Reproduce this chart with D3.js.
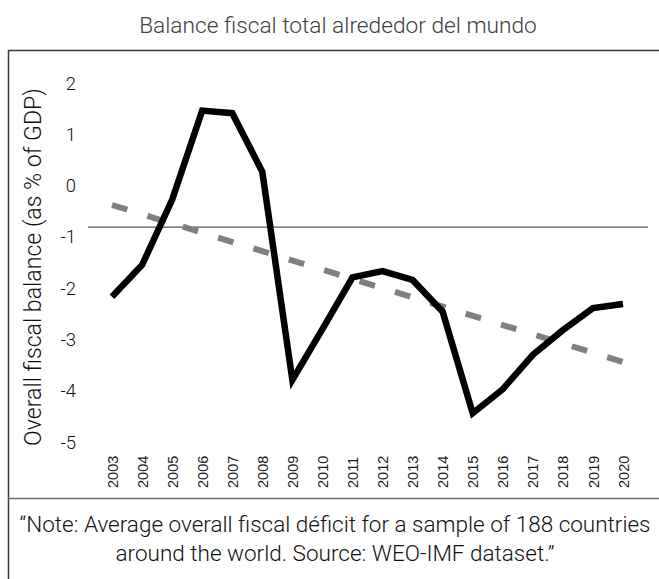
<!DOCTYPE html>
<html>
<head>
<meta charset="utf-8">
<script src="https://cdn.jsdelivr.net/npm/d3@7"></script>
<style>
  html, body { margin: 0; padding: 0; background: #fff; }
  svg { display: block; }
  .lt { font-family: Roboto, "Open Sans", "Liberation Sans", sans-serif; font-weight: 300; }
</style>
</head>
<body>
<svg id="chart" width="659" height="579"></svg>
<script>
const years = [2003, 2004, 2005, 2006, 2007, 2008, 2009, 2010, 2011, 2012, 2013, 2014, 2015, 2016, 2017, 2018, 2019, 2020];
const balance = [-2.18, -1.56, -0.29, 1.45, 1.40, 0.26, -3.80, -2.81, -1.80, -1.68, -1.85, -2.47, -4.45, -3.98, -3.31, -2.83, -2.40, -2.32];
const trendYears = [2003, 2020];
const trendValues = [-0.39, -3.45];
const yTicks = [2, 1, 0, -1, -2, -3, -4, -5];
const axisCross = -0.82;
const title = "Balance fiscal total alrededor del mundo";
const yTitle = "Overall fiscal balance (as % of GDP)";
const noteLines = ["\u201CNote: Average overall fiscal déficit for a sample of 188 countries", "around the world. Source: WEO-IMF dataset.\u201D"];

const svg = d3.select("#chart");
const x = d3.scaleLinear().domain([2003, 2020]).range([112, 623]);
const y = d3.scaleLinear().domain([-5, 2]).range([441.5, 82.4]);

function fit(sel, target) {
  const w = sel.node().getComputedTextLength();
  const fs = parseFloat(sel.attr("font-size"));
  if (w > 0) sel.attr("font-size", fs * target / w);
  return parseFloat(sel.attr("font-size"));
}

// frame
svg.append("line").attr("x1", 8.5).attr("x2", 8.5).attr("y1", 50).attr("y2", 579).attr("stroke", "#3a3a3a").attr("stroke-width", 1.5);
svg.append("line").attr("x1", 8).attr("x2", 659).attr("y1", 50.5).attr("y2", 50.5).attr("stroke", "#3a3a3a").attr("stroke-width", 1.5);
svg.append("line").attr("x1", 8).attr("x2", 659).attr("y1", 498.5).attr("y2", 498.5).attr("stroke", "#6a6a6a").attr("stroke-width", 1.5);

// title
fit(svg.append("text").attr("class", "lt").attr("x", 338).attr("y", 33)
  .attr("text-anchor", "middle").attr("font-size", 18).attr("fill", "#404040").text(title), 398);

// y-axis (labels only)
const yAxis = d3.axisLeft(y).tickValues(yTicks).tickSize(0).tickPadding(0).tickFormat(d3.format("d"));
const yg = svg.append("g").attr("transform", "translate(76,0)").call(yAxis);
yg.select(".domain").remove();
yg.attr("font-family", null).attr("font-size", null);
yg.selectAll("text").attr("class", "lt").attr("font-size", 18.5).attr("fill", "#111")
  .attr("dy", "0.36em").text(d => d < 0 ? "-" + Math.abs(d) : d);

// y title
fit(svg.append("text").attr("class", "lt")
  .attr("transform", "translate(41,267) rotate(-90)")
  .attr("text-anchor", "middle").attr("font-size", 19).attr("fill", "#111").text(yTitle), 358);

// horizontal axis line
svg.append("line").attr("x1", 88).attr("x2", 648).attr("y1", y(axisCross)).attr("y2", y(axisCross))
  .attr("stroke", "#595959").attr("stroke-width", 1.3);

// x labels
const xAxis = d3.axisBottom(x).tickValues(years).tickSize(0).tickFormat(d3.format("d"));
const xg = svg.append("g").attr("transform", "translate(0,450)").call(xAxis);
xg.select(".domain").remove();
xg.attr("font-family", null).attr("font-size", null);
xg.selectAll(".tick text").attr("font-family", "Liberation Sans, Arial, sans-serif").attr("font-size", 14.5).attr("fill", "#1a1a1a")
  .attr("transform", "rotate(-90)").attr("x", -38).attr("y", 0).attr("dy", "0.35em").attr("text-anchor", "start");

// trend
const line = d3.line().x(d => x(d[0])).y(d => y(d[1]));
svg.append("path").datum(d3.zip(trendYears, trendValues)).attr("d", line)
  .attr("fill", "none").attr("stroke", "#808080").attr("stroke-width", 6).attr("stroke-dasharray", "16 21");

// series
svg.append("path").datum(d3.zip(years, balance)).attr("d", line)
  .attr("fill", "none").attr("stroke", "#000").attr("stroke-width", 6.5).attr("stroke-linejoin", "miter").attr("stroke-linecap", "butt");

// note
const n1 = svg.append("text").attr("class", "lt").attr("x", 335).attr("y", 532)
  .attr("text-anchor", "middle").attr("font-size", 19).attr("fill", "#111").text(noteLines[0]);
const noteSize = fit(n1, 631);
svg.append("text").attr("class", "lt").attr("x", 335).attr("y", 561)
  .attr("text-anchor", "middle").attr("font-size", noteSize).attr("fill", "#111").text(noteLines[1]);
</script>
</body>
</html>
